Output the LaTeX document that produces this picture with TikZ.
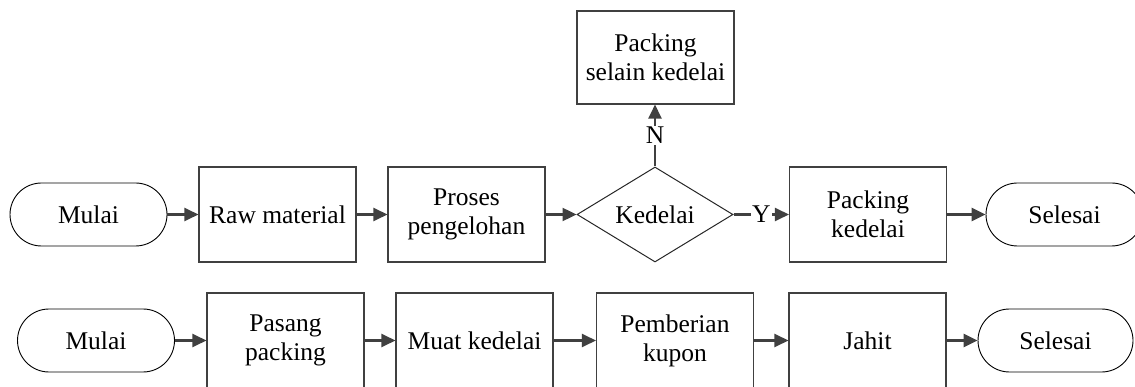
\documentclass[tikz,border=0pt]{standalone}
\usepackage{fontspec}
\setmainfont{Liberation Serif}
\usetikzlibrary{shapes.geometric,arrows.meta}
\definecolor{edgegray}{RGB}{64,64,64}
\tikzset{
  base/.style={font=\fontsize{25.5}{29}\selectfont, align=center, inner sep=0pt},
  term/.style={base, draw=black, line width=0.9pt, minimum width=157pt, minimum height=63pt, rounded corners=31.5pt},
  procbox/.style={base, draw=edgegray, line width=1.1pt, minimum width=157pt, minimum height=95pt},
  decide/.style={base, diamond, shape aspect=1.64, draw=black!85, line width=1pt, minimum width=156pt, minimum height=95pt},
  flow/.style={draw=edgegray, line width=2.4pt, -{Triangle[length=14pt,width=13pt]}},
  lbl/.style={font=\fontsize{25.5}{29}\selectfont, fill=white, inner sep=1.5pt}
}
\begin{document}
\begin{tikzpicture}[x=1pt,y=1pt]
\useasboundingbox (0,0) rectangle (1135,-387);
\clip (0,0) rectangle (1135,-387);
% top row
\node[term] (m1) at (88.5,-214.5) {Mulai};
\node[procbox] (raw) at (277.5,-214.5) {Raw material};
\node[procbox] (proses) at (466.5,-214.5) {Proses\\pengelohan};
\node[decide] (ked) at (655,-214.5) {Kedelai};
\node[procbox, minimum height=93pt] (selain) at (655.5,-57.5) {Packing\\selain kedelai};
\node[procbox] (pk) at (868,-214.5) {Packing\\kedelai};
\node[term] (s1) at (1064.5,-214.5) {Selesai};
\draw[flow] (m1) -- (raw);
\draw[flow] (raw) -- (proses);
\draw[flow] (proses) -- (ked);
\draw[flow] (ked) -- node[lbl] {Y} (pk);
\draw[flow] (ked.north) -- node[lbl] {N} (ked.north |- selain.south);
\draw[flow] (pk) -- (s1);
% bottom row
\node[term] (m2) at (96,-340.5) {Mulai};
\node[procbox] (pasang) at (285.5,-340.5) {Pasang\\packing};
\node[procbox] (muat) at (474.5,-340.5) {Muat kedelai};
\node[procbox] (pember) at (675,-340.5) {Pemberian\\kupon};
\node[procbox] (jahit) at (867.5,-340.5) {Jahit};
\node[term, minimum width=155pt] (s2) at (1055.5,-340.5) {Selesai};
\draw[flow] (m2) -- (pasang);
\draw[flow] (pasang) -- (muat);
\draw[flow] (muat) -- (pember);
\draw[flow] (pember) -- (jahit);
\draw[flow] (jahit) -- (s2);
\end{tikzpicture}
\end{document}
